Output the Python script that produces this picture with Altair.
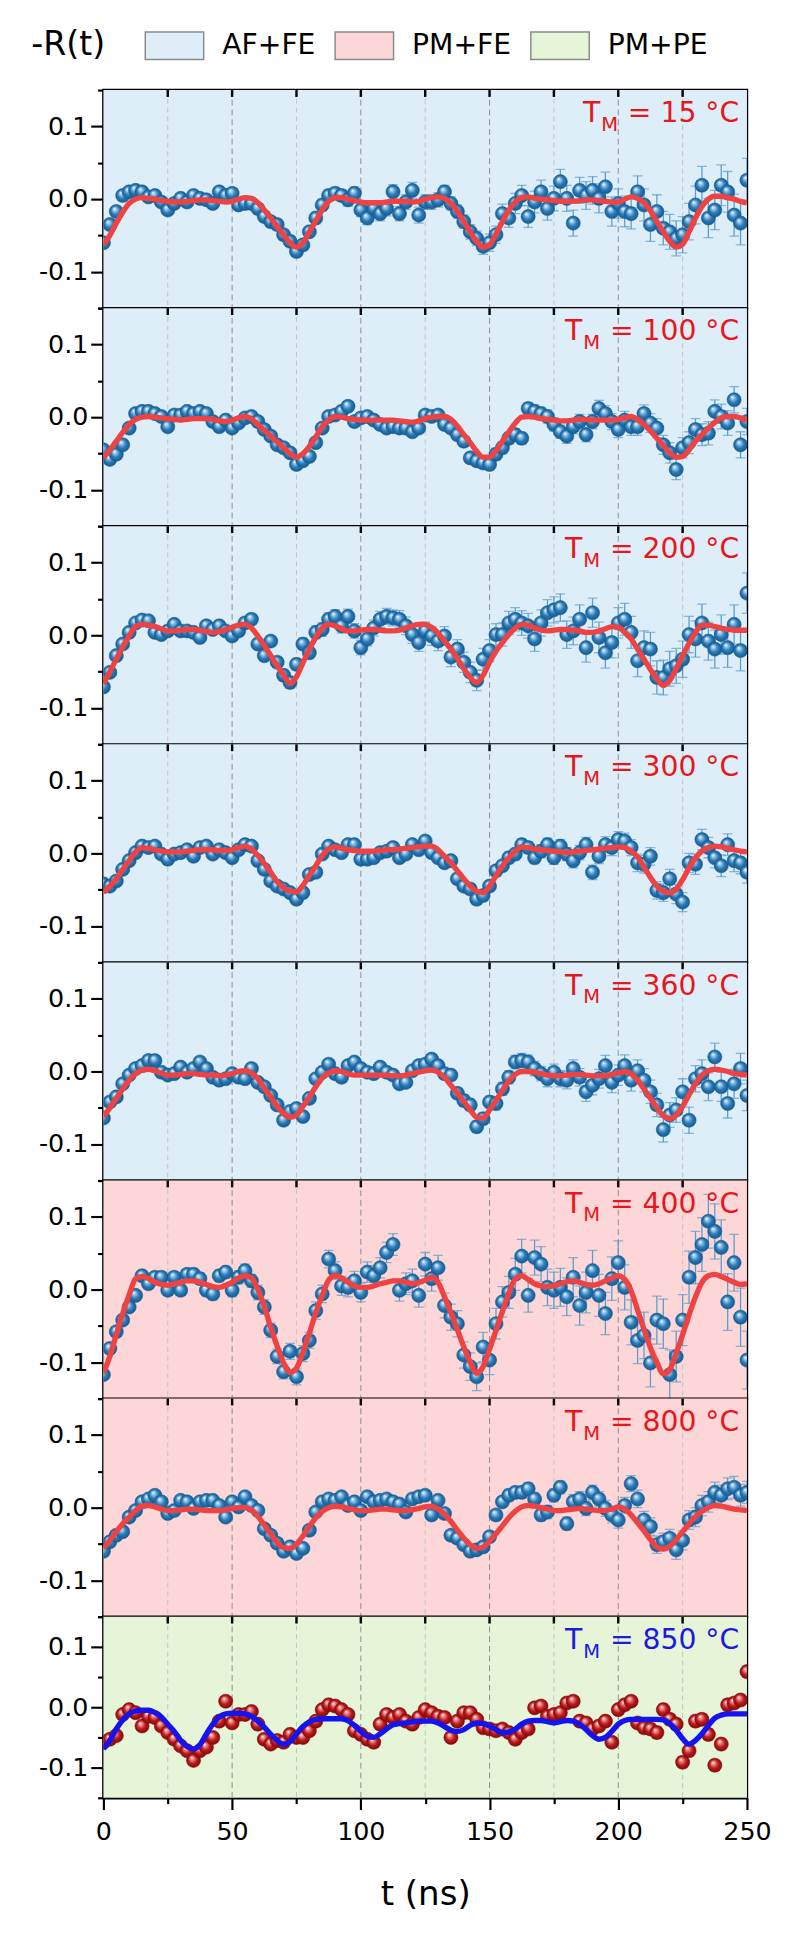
import altair as alt
import pandas as pd

FONT = "DejaVu Sans"

# ---------------- data (values in units of 1e-3) ----------------
T_NS = [k * 2.5 for k in range(101)]
TEMPS = ["15", "100", "200", "300", "360", "400", "800", "850"]
PHASE_OF_PANEL = ["AF+FE", "AF+FE", "AF+FE", "AF+FE", "AF+FE", "PM+FE", "PM+FE", "PM+PE"]
PHASE_NAMES = ["AF+FE", "PM+FE", "PM+PE"]
PHASE_FILLS = ["#ddeef8", "#fdd6d7", "#e6f5d7"]

X_TICKS = [0, 25, 50, 75, 100, 125, 150, 175, 200, 225, 250]
INNER_TICKS = [25, 50, 75, 100, 125, 150, 175, 200, 225]
GRID_LIGHT = [25, 75, 125, 175, 225]
GRID_DARK = [50, 100, 150, 200]
Y_TICKS = [-0.15, -0.1, -0.05, 0.0, 0.05, 0.1, 0.15]

R_15 = [-60, -35, -17, 5, 10, 12, 10, 3, 5, -4,
        -15, -6, 1, -4, 5, 1, -1, -6, 10, 5,
        8, -8, -6, -6, -13, -24, -31, -35, -49, -58,
        -72, -63, -45, -26, -8, 5, 8, 5, -1, 8,
        -15, -26, -13, -20, -13, 10, -20, -4, 12, -22,
        -4, -4, -1, 10, -6, -17, -31, -45, -54, -65,
        -60, -49, -20, -26, -6, 5, -24, -4, 10, -13,
        1, 24, 1, -33, 12, 5, 12, 1, 17, -17,
        -6, -17, -20, 10, -8, -35, -17, -40, -45, -54,
        -49, -31, -8, 19, -26, -15, 19, 10, -22, -33,
        26]
E_15 = [4, 4, 4, 4, 5, 5, 5, 5, 5, 5,
        5, 5, 5, 5, 5, 5, 5, 5, 6, 6,
        6, 6, 6, 6, 6, 7, 7, 7, 7, 7,
        7, 7, 7, 8, 8, 8, 8, 8, 9, 9,
        9, 9, 9, 10, 10, 10, 10, 10, 11, 11,
        10, 10, 10, 9, 9, 9, 9, 10, 10, 11,
        12, 12, 13, 13, 14, 14, 15, 15, 16, 16,
        17, 17, 18, 18, 18, 19, 19, 20, 20, 20,
        20, 21, 21, 22, 22, 23, 23, 23, 24, 24,
        25, 25, 26, 26, 27, 27, 28, 28, 29, 30,
        30]
F_15 = [-63, -50, -33, -18, -6, 0, 2, 1, 0, -2,
        -3, -4, -4, -3, -2, -1, -1, -2, -3, -4,
        -3, 0, 2, 1, -5, -15, -26, -38, -49, -60,
        -66, -60, -45, -30, -15, -3, 2, 2, 0, -2,
        -4, -5, -5, -5, -4, -3, -3, -3, -4, -3,
        0, 2, 3, 1, -6, -17, -31, -45, -58, -66,
        -63, -48, -31, -15, -4, 2, 3, 1, 0, -1,
        -2, -3, -3, -3, -2, -1, -1, -2, -3, -4,
        -4, 0, 3, 1, -5, -16, -31, -45, -58, -66,
        -62, -45, -26, -10, 0, 4, 4, 2, 0, -3,
        -5]

R_100 = [-45, -58, -51, -38, -15, 5, 8, 8, 5, 1,
         -13, 3, 3, 8, 5, 8, 5, -6, -13, -4,
         -15, -8, -1, 1, -6, -17, -26, -38, -42, -49,
         -65, -60, -54, -35, -15, 1, 3, 8, 15, -6,
         -1, 1, -4, -10, -15, -13, -15, -15, -20, -15,
         3, 1, 3, -10, -15, -24, -33, -56, -60, -63,
         -65, -51, -42, -29, -24, -29, 12, 8, 5, 1,
         -10, -20, -26, -13, -6, -24, -6, 12, 5, -6,
         -17, -4, -13, -13, 5, -8, -15, -38, -49, -72,
         -42, -35, -17, -24, -22, 8, 1, -8, 24, -38,
         -6]
E_100 = [4, 4, 4, 4, 4, 4, 4, 4, 4, 4,
         4, 4, 4, 4, 4, 5, 5, 5, 5, 5,
         5, 5, 5, 5, 5, 5, 5, 5, 5, 5,
         5, 5, 5, 6, 6, 6, 6, 6, 6, 6,
         6, 6, 6, 6, 6, 6, 6, 6, 6, 6,
         6, 6, 6, 6, 6, 7, 7, 7, 7, 7,
         7, 8, 8, 8, 8, 8, 8, 9, 9, 9,
         9, 9, 10, 10, 10, 10, 10, 11, 11, 11,
         11, 12, 12, 12, 12, 13, 13, 13, 14, 14,
         14, 15, 15, 15, 16, 16, 17, 17, 18, 18,
         18]
F_100 = [-56, -45, -33, -21, -10, -3, 0, 1, 0, -1,
         -2, -3, -4, -3, -2, -2, -2, -3, -5, -6,
         -4, -1, 1, -2, -10, -18, -26, -34, -42, -50,
         -55, -50, -40, -27, -13, -4, 1, 0, -2, -3,
         -4, -4, -4, -4, -4, -4, -5, -6, -7, -5,
         -2, 0, 1, 1, -3, -12, -24, -35, -47, -55,
         -55, -46, -33, -20, -8, 0, 1, 0, -2, -3,
         -4, -5, -5, -4, -3, -3, -4, -4, -4, -4,
         -3, -1, 1, -3, -10, -19, -29, -39, -49, -55,
         -54, -45, -33, -24, -15, -7, -1, 1, 1, -1,
         -4]

R_200 = [-71, -51, -28, -12, 4, 17, 21, 20, 4, 1,
         6, 15, 6, 6, 4, -3, 13, 8, 13, 6,
         -1, 6, 17, 22, -12, -28, -8, -37, -55, -65,
         -40, -12, -24, 4, 8, 22, 26, 13, 26, 6,
         -17, -5, 10, 22, 26, 24, 22, 13, 1, -10,
         6, -1, -8, -1, -30, -19, -37, -51, -62, -33,
         -21, 1, 1, 17, 22, 17, 13, -5, 17, 31,
         35, 38, 1, 6, 22, -17, 31, -3, -24, -10,
         17, 22, 4, -35, -17, -19, -58, -58, -46, -42,
         -33, 1, -5, 17, -8, -19, 1, -17, 15, -21,
         58]
E_200 = [5, 5, 5, 5, 5, 5, 5, 5, 5, 5,
         6, 6, 6, 6, 6, 6, 6, 6, 6, 6,
         7, 7, 7, 7, 7, 7, 7, 7, 8, 8,
         8, 8, 8, 9, 9, 9, 9, 10, 10, 10,
         10, 10, 11, 11, 11, 11, 12, 12, 12, 12,
         12, 13, 13, 13, 13, 13, 14, 14, 14, 15,
         15, 15, 16, 16, 16, 17, 17, 17, 18, 18,
         18, 19, 19, 19, 20, 20, 20, 21, 21, 21,
         21, 22, 22, 22, 23, 23, 23, 24, 24, 24,
         25, 25, 25, 26, 26, 26, 27, 27, 27, 28,
         28]
F_200 = [-67, -50, -33, -16, -1, 12, 15, 14, 12, 9,
         6, 6, 7, 8, 8, 7, 5, 4, 5, 8,
         11, 14, 15, 10, -1, -14, -28, -42, -55, -66,
         -57, -38, -19, -3, 10, 15, 13, 9, 6, 6,
         7, 8, 8, 7, 6, 6, 7, 10, 13, 15,
         15, 11, 3, -8, -19, -32, -46, -58, -65, -55,
         -37, -22, -10, 1, 10, 15, 14, 10, 7, 6,
         7, 8, 8, 7, 6, 4, 4, 6, 9, 12,
         11, 4, -5, -19, -33, -47, -60, -69, -62, -46,
         -28, -11, 4, 14, 14, 12, 10, 8, 7, 7,
         7]

R_300 = [-42, -45, -38, -22, -10, 1, 10, 8, 10, -1,
         -8, -1, 1, 5, -4, 8, 10, -1, 5, 1,
         -6, 5, 12, 10, -10, -22, -38, -45, -49, -54,
         -63, -54, -29, -26, -1, 10, 5, 1, 12, 12,
         -8, -8, -6, 1, 3, 8, -6, -1, 12, 5,
         17, 1, -6, -13, -10, -35, -45, -49, -63, -58,
         -45, -24, -17, -6, -1, 12, 8, -6, 3, 12,
         -6, 10, -1, -10, 1, 12, -26, -4, 12, 8,
         19, 17, 8, -13, -15, -4, -51, -54, -35, -56,
         -67, -13, -15, 19, 8, -6, -17, 12, -10, -13,
         -26]
E_300 = [4, 4, 4, 4, 4, 4, 4, 4, 4, 4,
         4, 4, 4, 4, 4, 4, 4, 4, 4, 5,
         5, 5, 5, 5, 5, 5, 5, 5, 5, 5,
         5, 5, 5, 5, 5, 5, 5, 5, 5, 5,
         5, 5, 5, 5, 6, 6, 6, 6, 6, 6,
         6, 6, 6, 6, 6, 6, 7, 7, 7, 7,
         7, 7, 7, 8, 8, 8, 8, 8, 9, 9,
         9, 9, 9, 10, 10, 10, 10, 10, 11, 11,
         11, 11, 11, 12, 12, 12, 12, 12, 13, 13,
         13, 13, 14, 14, 14, 14, 15, 15, 15, 15,
         15]
F_300 = [-54, -45, -35, -22, -10, 2, 8, 7, 5, 3,
         2, 2, 2, 3, 4, 5, 5, 5, 4, 4,
         5, 8, 10, 6, -3, -14, -26, -39, -47, -52,
         -53, -44, -30, -17, -3, 6, 9, 7, 5, 4,
         3, 3, 3, 4, 5, 5, 6, 7, 8, 9,
         10, 10, 5, -4, -13, -24, -35, -45, -52, -54,
         -45, -31, -17, -6, 3, 9, 8, 6, 5, 4,
         3, 2, 1, 2, 3, 4, 5, 6, 7, 8,
         9, 8, 3, -5, -19, -33, -45, -52, -54, -49,
         -36, -20, -6, 3, 8, 10, 9, 7, 5, 3,
         2]

R_360 = [-64, -42, -35, -17, -5, 4, 8, 15, 15, -1,
         -5, -3, 6, -1, 4, 13, 4, -8, -12, -10,
         -3, -8, -10, 4, -15, -21, -33, -46, -67, -55,
         -51, -62, -37, -10, -1, 10, -3, -8, 8, 13,
         4, -1, -3, 6, -1, -5, -17, -15, 1, 8,
         10, 17, 8, -3, -5, -30, -40, -46, -76, -65,
         -42, -44, -24, -8, 13, 15, 13, 4, -3, -10,
         -1, -10, -12, 4, -8, -28, -19, -10, 8, -15,
         -5, 8, -12, 1, -12, -28, -46, -80, -60, -53,
         -28, -67, -10, -3, -21, 20, -21, -44, -17, 4,
         -33]
E_360 = [4, 4, 4, 4, 4, 4, 4, 4, 4, 4,
         4, 4, 4, 4, 4, 5, 5, 5, 5, 5,
         5, 5, 5, 5, 5, 5, 5, 5, 5, 5,
         5, 5, 5, 5, 5, 5, 6, 6, 6, 6,
         6, 6, 6, 6, 6, 6, 6, 6, 6, 7,
         7, 7, 7, 7, 7, 7, 8, 8, 8, 8,
         8, 9, 9, 9, 9, 10, 10, 10, 10, 11,
         11, 11, 12, 12, 12, 13, 13, 13, 14, 14,
         14, 15, 15, 15, 16, 16, 16, 17, 17, 17,
         18, 18, 18, 19, 19, 19, 20, 20, 20, 21,
         21]
F_360 = [-62, -50, -37, -24, -12, -3, 2, 3, 1, -2,
         -5, -5, -4, -3, -3, -4, -5, -5, -6, -5,
         -3, 0, 1, -2, -10, -23, -35, -48, -58, -63,
         -60, -48, -35, -21, -9, -2, 1, 0, -3, -5,
         -5, -5, -5, -5, -5, -6, -6, -5, -3, -1,
         1, 2, -1, -8, -19, -30, -41, -53, -63, -64,
         -53, -40, -26, -13, -4, 0, 0, -1, -3, -5,
         -6, -6, -5, -4, -4, -5, -6, -6, -6, -4,
         -2, 0, -3, -12, -24, -37, -50, -61, -65, -60,
         -48, -32, -17, -5, 1, 3, 2, 0, -3, -4,
         -5]

R_400 = [-117, -81, -58, -42, -24, -8, 19, 8, 17, 17,
         -1, 17, -1, 21, 21, 15, -1, -6, 19, 24,
         -1, 17, 26, 12, -4, -24, -56, -92, -113, -85,
         -120, -88, -70, -29, -6, 42, 26, 5, 3, 12,
         -4, 24, 19, 30, 51, 62, -1, 8, 12, -8,
         35, 15, 30, -22, -38, -47, -90, -106, -120, -79,
         -97, -47, -17, -4, 21, 46, -8, 44, 35, 3,
         -1, 3, -10, 17, -22, -4, 26, -8, -33, 15,
         37, 3, -45, -70, -63, -101, -42, -47, -117, -92,
         -42, 17, 44, 62, 94, 80, 58, -17, 37, -38,
         -97]
E_400 = [6, 6, 6, 6, 6, 6, 7, 7, 7, 7,
         7, 7, 7, 7, 8, 8, 8, 8, 8, 8,
         9, 9, 9, 9, 10, 10, 10, 10, 10, 11,
         11, 11, 11, 12, 12, 12, 12, 13, 13, 13,
         13, 14, 14, 14, 14, 15, 15, 15, 16, 16,
         16, 17, 17, 17, 18, 18, 18, 19, 19, 20,
         20, 21, 21, 22, 22, 23, 23, 24, 24, 25,
         25, 26, 26, 27, 27, 28, 28, 29, 29, 30,
         30, 31, 31, 32, 32, 33, 33, 34, 34, 35,
         35, 36, 36, 37, 37, 38, 38, 39, 39, 40,
         40]
F_400 = [-115, -92, -62, -33, -7, 15, 18, 15, 10, 7,
         6, 8, 10, 12, 12, 10, 7, 4, 3, 6,
         10, 16, 19, 16, 0, -23, -52, -78, -101, -114,
         -108, -86, -60, -32, -8, 13, 19, 16, 10, 5,
         3, 3, 5, 8, 10, 12, 12, 10, 8, 10,
         13, 17, 10, -10, -32, -55, -79, -100, -115, -106,
         -82, -56, -30, -5, 15, 19, 14, 8, 5, 4,
         5, 8, 11, 12, 10, 7, 6, 8, 12, 16,
         19, 14, -2, -28, -55, -80, -100, -116, -110, -88,
         -62, -35, -10, 10, 19, 21, 18, 14, 10, 7,
         8]

R_800 = [-60, -47, -38, -33, -13, -4, 8, 12, 17, 8,
         -8, -4, 10, 8, -1, 8, 10, 10, 3, -13,
         8, 1, 15, 3, -4, -29, -38, -49, -60, -54,
         -63, -56, -31, -6, 8, 12, 10, 15, 3, 8,
         -4, 15, 8, 10, 12, 8, 5, -6, 12, 15,
         17, -10, 10, -8, -38, -42, -51, -60, -58, -54,
         -40, -10, 8, 17, 21, 21, 26, 12, -10, -6,
         17, 28, -22, 8, 12, -1, 21, 12, -1, -10,
         -17, 3, 33, 12, -17, -26, -51, -47, -42, -58,
         -45, -17, -13, 3, 8, 21, 17, 26, 28, 17,
         21]
E_800 = [4, 4, 4, 4, 4, 4, 4, 4, 4, 4,
         4, 4, 4, 4, 4, 4, 4, 4, 5, 5,
         5, 5, 5, 5, 5, 5, 5, 5, 5, 5,
         5, 5, 5, 5, 5, 5, 5, 5, 5, 6,
         6, 6, 6, 6, 6, 6, 6, 6, 6, 6,
         6, 6, 6, 6, 6, 6, 6, 7, 7, 7,
         7, 7, 7, 8, 8, 8, 8, 8, 8, 9,
         9, 9, 9, 10, 10, 10, 10, 10, 11, 11,
         11, 11, 11, 12, 12, 12, 12, 12, 12, 13,
         13, 13, 13, 14, 14, 14, 14, 15, 15, 15,
         15]
F_800 = [-56, -45, -33, -22, -13, -4, 2, 3, 1, -2,
         -4, -4, -3, -2, -2, -3, -4, -4, -4, -3,
         -1, 0, 0, -3, -12, -24, -36, -48, -55, -56,
         -50, -39, -26, -14, -5, 0, 2, 1, -1, -3,
         -4, -4, -3, -2, -2, -3, -4, -4, -3, -1,
         1, 2, -2, -9, -19, -31, -42, -51, -56, -54,
         -46, -36, -25, -14, -5, 1, 3, 2, 0, -2,
         -4, -4, -3, -2, -1, -2, -3, -4, -4, -2,
         1, -2, -10, -21, -32, -44, -54, -57, -53, -44,
         -33, -22, -12, -5, 0, 3, 2, 0, -2, -3,
         -4]

R_850 = [-58, -53, -47, -12, -4, -9, -31, -15, -17, -31,
         -42, -53, -64, -72, -88, -72, -66, -50, -23, 10,
         -26, -12, -12, -7, -28, -53, -61, -55, -58, -45,
         -50, -50, -39, -23, -4, 4, 2, -4, -12, -39,
         -45, -53, -58, -28, -12, -17, -12, -23, -28, -17,
         -4, -9, -15, -17, -50, -23, -9, -9, -20, -34,
         -36, -39, -36, -42, -53, -42, -36, -1, 2, -15,
         -12, -9, 7, 10, -23, -26, -36, -31, -23, -58,
         -4, 4, 10, -26, -34, -36, -42, -4, -20, -28,
         -91, -72, -23, -20, -45, -96, -61, 4, 7, 12,
         59]
E_850 = [6, 6, 6, 6, 6, 6, 6, 6, 6, 6,
         6, 6, 6, 6, 6, 6, 6, 6, 6, 6,
         6, 6, 6, 6, 6, 7, 7, 7, 7, 7,
         7, 7, 7, 7, 7, 7, 7, 7, 7, 7,
         7, 7, 7, 7, 7, 7, 7, 7, 7, 7,
         7, 7, 7, 7, 7, 7, 7, 7, 7, 7,
         8, 8, 8, 8, 8, 8, 8, 8, 8, 8,
         8, 8, 8, 8, 8, 8, 8, 8, 8, 8,
         8, 8, 8, 8, 8, 9, 9, 9, 9, 9,
         9, 9, 9, 9, 9, 9, 9, 9, 9, 9,
         9]
F_850 = [-69, -55, -36, -21, -11, -6, -5, -5, -9, -16,
         -28, -40, -55, -65, -69, -62, -44, -28, -16, -11,
         -10, -10, -11, -15, -23, -33, -45, -55, -61, -57,
         -44, -32, -24, -20, -19, -19, -19, -19, -22, -30,
         -40, -48, -50, -44, -36, -29, -27, -26, -24, -23,
         -23, -23, -26, -32, -38, -40, -37, -30, -26, -27,
         -31, -37, -42, -41, -36, -28, -23, -22, -22, -24,
         -26, -24, -22, -23, -28, -37, -47, -53, -50, -40,
         -28, -22, -20, -20, -20, -20, -20, -21, -27, -38,
         -52, -61, -55, -44, -30, -18, -13, -11, -11, -11,
         -11]

DATA = [R_15, R_100, R_200, R_300, R_360, R_400, R_800, R_850]
ERRS = [E_15, E_100, E_200, E_300, E_360, E_400, E_800, E_850]
FITS = [F_15, F_100, F_200, F_300, F_360, F_400, F_800, F_850]

for name, group in (("data", DATA), ("errs", ERRS), ("fits", FITS)):
    for k, lst in enumerate(group):
        assert len(lst) == len(T_NS), f"{name} panel {k} has {len(lst)} values"

# ---------------- layout / styling ----------------
W = 661
H = 224
H_LAST = 186

DEJAVU_W = {"=": 838, " ": 318, "°": 500, "C": 698, "M": 863, "T": 611}
for d in "0123456789":
    DEJAVU_W[d] = 636


def text_width(s, size):
    return sum(DEJAVU_W.get(c, 600) for c in s) * size / 1000.0


def sphere(light, base, dark):
    return alt.RadialGradient(
        gradient="radial",
        stops=[
            alt.GradientStop(color="#ffffff", offset=0.0),
            alt.GradientStop(color=light, offset=0.2),
            alt.GradientStop(color=base, offset=0.6),
            alt.GradientStop(color=dark, offset=1.0),
        ],
        x1=0.36, y1=0.3, r1=0.0, x2=0.5, y2=0.5, r2=0.5,
    )


X_SCALE = alt.Scale(domain=[0, 250], nice=False, zero=False)
Y_SCALE = alt.Scale(domain=[-0.15, 0.15], nice=False, zero=False)


def y_axis():
    return alt.Axis(
        values=Y_TICKS,
        labelExpr="round(datum.value * 20) % 2 != 0 ? '' : (datum.value < -0.01 ? '-' + format(-datum.value, '.1f') : format(datum.value, '.1f'))",
        tickSize={"condition": {"test": "round(datum.value * 20) % 2 == 0", "value": 13}, "value": 6},
        tickWidth=2.2, tickColor="black",
        domainColor="black", domainWidth=2.5,
        labelFont=FONT, labelFontSize=26, labelColor="black", labelPadding=3,
        labelOverlap=False, labelFlush=False, labelBound=False,
        grid=False, title=None,
    )


def x_axis():
    return alt.Axis(
        values=X_TICKS,
        labelExpr="datum.value % 50 == 0 ? format(datum.value, 'd') : ''",
        tickSize={"condition": {"test": "datum.value % 50 == 0", "value": 12}, "value": 6},
        tickWidth=2.2, tickColor="black",
        domainColor="black", domainWidth=2.5,
        labelFont=FONT, labelFontSize=26, labelColor="black", labelPadding=10,
        labelOverlap=False, labelFlush=False, labelBound=False,
        grid=False,
        title="t (ns)", titleFont=FONT, titleFontSize=35, titleFontWeight="normal",
        titleColor="black", titlePadding=34,
    )


def panel(i):
    last = i == len(TEMPS) - 1
    h = H_LAST if last else H
    xax = x_axis() if last else None

    def X(f):
        return alt.X(f"{f}:Q", scale=X_SCALE, axis=xax)

    def Y(f):
        return alt.Y(f"{f}:Q", scale=Y_SCALE, axis=y_axis())

    vals, errs, fit = DATA[i], ERRS[i], FITS[i]
    df = pd.DataFrame({
        "t": T_NS,
        "r": [v / 1000 for v in vals],
        "lo": [(v - e) / 1000 for v, e in zip(vals, errs)],
        "hi": [(v + e) / 1000 for v, e in zip(vals, errs)],
        "fit": [f / 1000 for f in fit],
    })

    if last:
        pt_fill = sphere("#f29a9a", "#c01a1a", "#7d0a0a")
        pt_stroke, err_col, fit_col, txt_col = "#8a0c0c", "#c8413a", "#1414ee", "#1a1ae0"
    else:
        pt_fill = sphere("#a6d0ee", "#2a7bb9", "#165a8e")
        pt_stroke, err_col, fit_col, txt_col = "#1a5f94", "#5a9ccc", "#ef4343", "#e8161c"

    if i == 0:
        legend = alt.Legend(
            orient="none", legendX=42, legendY=-77, direction="horizontal",
            title=None,
            symbolType="M-1,-0.47L1,-0.47L1,0.47L-1,0.47Z", symbolSize=3600,
            symbolStrokeColor="#8a8a8a", symbolStrokeWidth=1.5, symbolOpacity=1,
            labelFont=FONT, labelFontSize=29, labelColor="black", labelLimit=0,
            labelOffset=18, columnPadding=17,
        )
    else:
        legend = None

    bg = alt.Chart(pd.DataFrame({"phase": [PHASE_OF_PANEL[i]]})).mark_rect().encode(
        x=alt.value(0), x2=alt.value(W), y=alt.value(0), y2=alt.value(h),
        color=alt.Color("phase:N", scale=alt.Scale(domain=PHASE_NAMES, range=PHASE_FILLS), legend=legend),
    )
    grid_l = alt.Chart(pd.DataFrame({"g": GRID_LIGHT})).mark_rule(
        color="#c2c2c2", strokeWidth=1, strokeDash=[5, 4]
    ).encode(x=X("g"), y=alt.value(0), y2=alt.value(h))
    grid_d = alt.Chart(pd.DataFrame({"g": GRID_DARK})).mark_rule(
        color="#8c8c8c", strokeWidth=1, strokeDash=[6, 4]
    ).encode(x=X("g"), y=alt.value(0), y2=alt.value(h))
    inner = alt.Chart(pd.DataFrame({"g": INNER_TICKS})).mark_rule(
        color="black", strokeWidth=2.5
    ).encode(x=X("g"), y=alt.value(0), y2=alt.value(7))

    base = alt.Chart(df)
    bars = base.mark_rule(color=err_col, strokeWidth=1.3, clip=True).encode(
        x=X("t"), y=Y("lo"), y2="hi")
    cap_hi = base.mark_tick(orient="horizontal", size=10, thickness=1.3, color=err_col, clip=True).encode(
        x=X("t"), y=Y("hi"))
    cap_lo = base.mark_tick(orient="horizontal", size=10, thickness=1.3, color=err_col, clip=True).encode(
        x=X("t"), y=Y("lo"))
    pts = base.mark_circle(size=210, fill=pt_fill, opacity=1, stroke=pt_stroke,
                           strokeWidth=0.6, clip=True).encode(x=X("t"), y=Y("r"))
    line = base.mark_line(color=fit_col, strokeWidth=5.5, interpolate="monotone", clip=True).encode(
        x=X("t"), y=Y("fit"))

    main = f"= {TEMPS[i]} °C"
    main_size = 29
    sub_size = 20
    main_left = (W - 8) - text_width(main, main_size)
    m_right = main_left - 10
    t_right = m_right - text_width("M", sub_size) - 1
    txt_main = alt.Chart(pd.DataFrame({"s": [main]})).mark_text(
        align="right", baseline="alphabetic", fontSize=main_size, font=FONT, color=txt_col
    ).encode(x=alt.value(W - 8), y=alt.value(33), text="s:N")
    txt_m = alt.Chart(pd.DataFrame({"s": ["M"]})).mark_text(
        align="right", baseline="alphabetic", fontSize=sub_size, font=FONT, color=txt_col
    ).encode(x=alt.value(m_right), y=alt.value(42), text="s:N")
    txt_t = alt.Chart(pd.DataFrame({"s": ["T"]})).mark_text(
        align="right", baseline="alphabetic", fontSize=main_size, font=FONT, color=txt_col
    ).encode(x=alt.value(t_right), y=alt.value(33), text="s:N")

    layers = [bg, grid_l, grid_d, inner, bars, cap_hi, cap_lo, pts, line, txt_t, txt_m, txt_main]
    if i == 0:
        ylabel = alt.Chart(pd.DataFrame({"s": ["-R(t)"]})).mark_text(
            align="left", baseline="middle", fontSize=34, font=FONT, color="black"
        ).encode(x=alt.value(-74), y=alt.value(-46), text="s:N")
        layers.append(ylabel)

    return alt.layer(*layers).properties(width=W, height=h)


panels = [panel(i) for i in range(len(TEMPS))]

chart = (
    alt.vconcat(*panels, spacing=0, bounds="flush")
    .resolve_scale(color="independent", x="independent", y="independent")
    .resolve_legend(color="independent")
    .properties(padding={"left": 22, "top": -21, "right": 10, "bottom": 10})
    .configure_view(stroke="black", strokeWidth=2.5)
    .configure_axis(labelFont=FONT, titleFont=FONT)
)

chart.save("out.html", embed_options={"renderer": "svg", "actions": False})
